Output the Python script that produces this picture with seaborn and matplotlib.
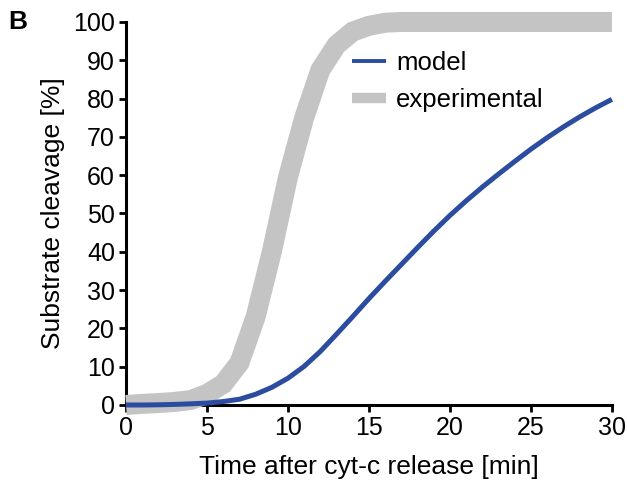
import matplotlib
matplotlib.use("Agg")
import matplotlib.pyplot as plt
from matplotlib.lines import Line2D
import seaborn as sns
import pandas as pd

# Time after cyt-c release [min]
time_min = list(range(0, 31))
# Experimental substrate cleavage [%]
experimental = [0.0, 0.3, 0.5, 0.8, 1.3, 2.9, 5.5, 11.0, 23.0, 40.0, 59.5,
                75.0, 87.5, 94.0, 97.5, 99.0, 99.8, 100.0, 100.0, 100.0, 100.0,
                100.0, 100.0, 100.0, 100.0, 100.0, 100.0, 100.0, 100.0, 100.0, 100.0]
# Model substrate cleavage [%]
model = [0.0, 0.0, 0.05, 0.15, 0.3, 0.5, 0.9, 1.5, 2.8, 4.6, 7.0,
         10.1, 14.0, 18.5, 23.1, 27.8, 32.3, 36.7, 41.1, 45.4, 49.5,
         53.3, 56.9, 60.3, 63.6, 66.8, 69.8, 72.6, 75.2, 77.6, 79.8]

x_ticks = [0, 5, 10, 15, 20, 25, 30]
y_ticks = [0, 10, 20, 30, 40, 50, 60, 70, 80, 90, 100]

sns.set_style("ticks")
plt.rcParams['font.family'] = ['Liberation Sans', 'DejaVu Sans']
plt.rcParams['text.color'] = 'black'
plt.rcParams['axes.labelcolor'] = 'black'

GRAY = "#C4C4C4"
BLUE = "#2B4C9F"

df = pd.DataFrame({"time": time_min, "experimental": experimental, "model": model})

fig = plt.figure(figsize=(6.27, 4.83), dpi=100)
ax = fig.add_axes([0.201, 0.1615, 0.775, 0.793])

sns.lineplot(data=df, x="time", y="experimental", ax=ax, color=GRAY, lw=14.4,
             clip_on=False, zorder=3, solid_capstyle="butt", solid_joinstyle="miter")
sns.lineplot(data=df, x="time", y="model", ax=ax, color=BLUE, lw=3.6,
             clip_on=False, zorder=4, solid_capstyle="butt")

ax.set_xlim(0, 30)
ax.set_ylim(0, 100)
ax.set_xticks(x_ticks)
ax.set_yticks(y_ticks)
ax.tick_params(axis="both", labelsize=18, length=5, width=2, direction="out",
               color="black", labelcolor="black", pad=3)
for s in ["top", "right"]:
    ax.spines[s].set_visible(False)
for s in ["left", "bottom"]:
    ax.spines[s].set_linewidth(2.2)
    ax.spines[s].set_color("black")
    ax.spines[s].set_zorder(2)

ax.set_xlabel("Time after cyt-c release [min]", fontsize=19, labelpad=11, color="black")
ax.set_ylabel("Substrate cleavage [%]", fontsize=19, labelpad=6, color="black")

handles = [Line2D([], [], color=BLUE, lw=2.8, solid_capstyle="butt"),
           Line2D([], [], color=GRAY, lw=7.5, solid_capstyle="butt")]
fig.legend(handles, ["model", "experimental"], loc="upper left",
           bbox_to_anchor=(0.562, 0.895), frameon=False, fontsize=18.5,
           handlelength=1.3, handletextpad=0.4, labelspacing=0.52, borderpad=0,
           borderaxespad=0, labelcolor="black")

fig.text(0.013, 0.955, "B", fontsize=19, fontweight="bold", va="center", ha="left",
         color="black")

fig.savefig("out.png", dpi=100)
